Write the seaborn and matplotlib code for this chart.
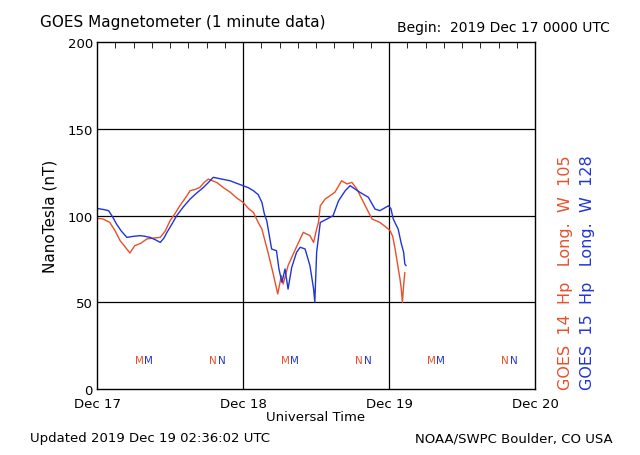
import numpy as np, pandas as pd, matplotlib
matplotlib.use('Agg')
import matplotlib.pyplot as plt
import seaborn as sns

# hours since 2019 Dec 17 00 UTC, field in nT
g14_hours = [0, 1.0, 2.1, 3.0, 3.8, 4.6, 5.4, 6.2, 7.2, 8.2, 9.3, 10.4, 11.2, 12, 12.8, 13.6,
             14.5, 15.3, 16.1, 16.9, 17.6, 18.3, 19.0, 19.7, 20.8, 21.9, 23.0, 24, 24.9, 25.7,
             26.5, 27.1, 28.1, 28.9, 29.7, 30.3, 30.6, 31.4, 32.5, 33.9, 35.0, 35.6, 36.1,
             36.4, 36.7, 37.5, 38.3, 39.1, 40.2, 41.1, 41.9, 42.7, 43.8, 45.2, 46.5, 47.9,
             48.2, 48.6, 49, 49.4, 49.8, 50.0, 50.2, 50.4, 50.6]
g14_nt = [98.4, 98, 96, 91, 85.5, 82, 78.4, 82.6, 84, 86.5, 87, 87.4, 91, 97, 101, 105.6,
          110, 114.3, 115, 116.2, 119, 121, 120, 119, 116, 113.4, 110, 107.6, 104, 101.8,
          96, 92.2, 78.8, 67.3, 54.8, 65.3, 60.5, 71.1, 79.7, 90.3, 88.4, 84.5, 92.2,
          96, 105.6, 109.5, 111.4, 113.4, 120, 118.2, 119.1, 115.3, 107.6, 98, 96, 92.2,
          91, 88, 80.7, 72, 63.4, 58, 50, 60, 67.2]

g15_hours = [0, 1.0, 1.9, 2.6, 3.2, 4.0, 4.9, 6.0, 7.1, 7.9, 8.7, 9.6, 10.4, 11.0, 11.5, 12.3,
             13.1, 14.2, 15.3, 16.4, 17.5, 18.3, 19.1, 20.5, 21.9, 23.0, 24, 24.9, 25.7, 26.5,
             27.1, 27.5, 27.9, 28.7, 29.5, 29.9, 30.4, 30.9, 31.4, 32.0, 32.8, 33.4, 34.2,
             35.0, 35.6, 35.8, 36.1, 36.7, 37.8, 38.8, 39.7, 40.8, 41.6, 43.2, 44.6, 45.7,
             46.5, 47.9, 48.3, 48.7, 49.1, 49.5, 50.0, 50.4, 50.6, 50.8]
g15_nt = [104.1, 103.5, 102.8, 99, 95.1, 91, 87.4, 88, 88.4, 88, 87.4, 86, 84.5, 87, 90.3, 95,
          99.9, 105, 109.5, 113, 116.2, 119, 122, 121, 120, 118.5, 117.2, 116, 114.3, 112,
          107.6, 101, 97, 80.7, 79.7, 69.2, 61.5, 69.2, 57.6, 70.1, 78.8, 81.7, 80.7,
          71.1, 57.6, 50, 78.8, 96, 98, 99.9, 108.5, 114.3, 117.2, 113.4, 110.5, 103.7,
          102.8, 105.6, 104, 98, 95, 92.2, 84, 78.8, 72, 71.1]

# local midnight (M) / noon (N) markers
marker_hours_14 = [7.0, 19.0, 31.0, 43.0, 55.0, 67.0]
marker_hours_15 = [8.53, 20.53, 32.53, 44.53, 56.53, 68.53]
marker_text = ['M', 'N', 'M', 'N', 'M', 'N']

day_labels = ['Dec 17', 'Dec 18', 'Dec 19', 'Dec 20']

red = '#e8502a'
blue = '#1f35d8'

df = pd.concat([
    pd.DataFrame({'hours': g14_hours, 'nT': g14_nt, 'sat': 'GOES 14'}),
    pd.DataFrame({'hours': g15_hours, 'nT': g15_nt, 'sat': 'GOES 15'}),
])

sns.set_style('white')
plt.rcParams['font.family'] = ['DejaVu Sans']
plt.rcParams['text.color'] = 'black'
plt.rcParams['axes.labelcolor'] = 'black'
plt.rcParams['xtick.color'] = 'black'
plt.rcParams['ytick.color'] = 'black'
fig = plt.figure(figsize=(6.4, 4.56), dpi=100)
ax = fig.add_axes([0.1516, 0.1447, 0.6844, 0.761])

sns.lineplot(data=df, x='hours', y='nT', hue='sat', palette={'GOES 14': red, 'GOES 15': blue},
             linewidth=1.0, ax=ax, legend=False, sort=False, estimator=None)

ax.set_xlim(0, 72)
ax.set_ylim(0, 200)
for v in [50, 100, 150]:
    ax.axhline(v, color='black', lw=0.9, zorder=0)
for v in [24, 48]:
    ax.axvline(v, color='black', lw=0.9, zorder=0)

ax.set_xticks([0, 24, 48, 72])
ax.set_xticklabels(day_labels)
ax.set_xticks(np.arange(0, 73, 3), minor=True)
ax.set_yticks([0, 50, 100, 150, 200])
ax.tick_params(axis='both', which='both', direction='in', top=True, labelsize=9.5, pad=6)
ax.tick_params(axis='x', which='minor', length=4)
ax.tick_params(axis='x', which='major', length=0)
ax.tick_params(axis='y', which='major', length=0, pad=3)
for s in ax.spines.values():
    s.set_color('black')
    s.set_linewidth(1.0)

ax.set_xlabel('Universal Time', fontsize=9.5, labelpad=0)
ax.set_ylabel('NanoTesla (nT)', fontsize=11, labelpad=7)

for h, t in zip(marker_hours_14, marker_text):
    ax.text(h, 16.5, t, color=red, fontsize=7.5, ha='center', va='center')
for h, t in zip(marker_hours_15, marker_text):
    ax.text(h, 16.5, t, color=blue, fontsize=7.5, ha='center', va='center')

fig.text(0.063, 0.94, 'GOES Magnetometer (1 minute data)', fontsize=11)
fig.text(0.953, 0.93, 'Begin:  2019 Dec 17 0000 UTC', fontsize=10, ha='right')
fig.text(0.047, 0.03, 'Updated 2019 Dec 19 02:36:02 UTC', fontsize=9.5)
fig.text(0.957, 0.03, 'NOAA/SWPC Boulder, CO USA', fontsize=9.5, ha='right')
fig.text(0.883, 0.145, 'GOES  14  Hp   Long.  W  105', color=red, fontsize=11.5,
         rotation=90, ha='center', va='bottom')
fig.text(0.918, 0.145, 'GOES  15  Hp   Long.  W  128', color=blue, fontsize=11.5,
         rotation=90, ha='center', va='bottom')

fig.savefig('out.png', dpi=100)
